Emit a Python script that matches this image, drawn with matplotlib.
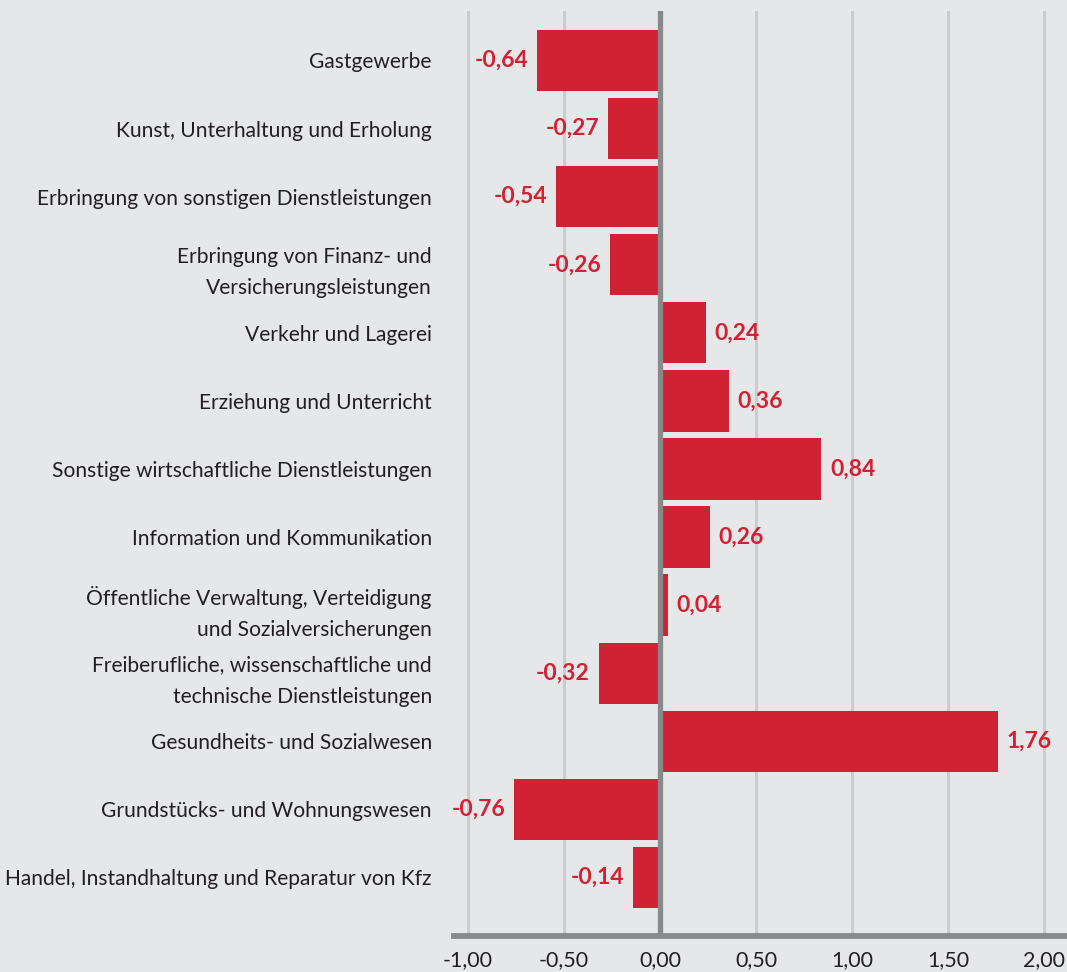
import matplotlib.pyplot as plt
import matplotlib.ticker as ticker

# ---------------------------------------------------------------------------
# Data
# ---------------------------------------------------------------------------
categories = [
    "Gastgewerbe",
    "Kunst, Unterhaltung und Erholung",
    "Erbringung von sonstigen Dienstleistungen",
    "Erbringung von Finanz- und\nVersicherungsleistungen",
    "Verkehr und Lagerei",
    "Erziehung und Unterricht",
    "Sonstige wirtschaftliche Dienstleistungen",
    "Information und Kommunikation",
    "Öffentliche Verwaltung, Verteidigung\nund Sozialversicherungen",
    "Freiberufliche, wissenschaftliche und\ntechnische Dienstleistungen",
    "Gesundheits- und Sozialwesen",
    "Grundstücks- und Wohnungswesen",
    "Handel, Instandhaltung und Reparatur von Kfz",
]
values = [-0.64, -0.27, -0.54, -0.26, 0.24, 0.36, 0.84, 0.26, 0.04, -0.32, 1.76, -0.76, -0.14]
xticks = [-1.0, -0.5, 0.0, 0.5, 1.0, 1.5, 2.0]

BG = "#e6e7e9"
RED = "#d12233"
GRID = "#cbcccf"
AXIS = "#88898b"
TEXT = "#231f20"

plt.rcParams["font.family"] = ["Lato", "DejaVu Sans"]


def de(v):
    return f"{v:.2f}".replace(".", ",")


fig = plt.figure(figsize=(10.67, 9.72), dpi=100, facecolor=BG)
ax = fig.add_axes([454 / 1067, 1 - 936 / 972, 1 - 454 / 1067, (936 - 11) / 972])
ax.set_facecolor(BG)

ypos = list(range(len(categories)))
ax.barh(ypos, values, height=0.9, color=RED, zorder=2)

for x in xticks:
    if x != 0:
        ax.axvline(x, color=GRID, lw=2.2, zorder=1)
ax.axvline(0, color=AXIS, lw=3.8, zorder=3)

for y, v in zip(ypos, values):
    off = 0.045
    if v >= 0:
        ax.text(v + off, y, de(v), ha="left", va="center", color=RED,
                fontsize=16.5, fontweight="bold")
    else:
        ax.text(v - off, y, de(v), ha="right", va="center", color=RED,
                fontsize=16.5, fontweight="bold")

ax.set_xlim(-1.073, 2.12)
ax.set_ylim(len(categories) - 1 + 0.86, -0.727)

ax.set_yticks(ypos)
ax.set_yticklabels(categories, fontsize=15.1, color=TEXT, linespacing=1.72)
ax.set_xticks(xticks)
ax.xaxis.set_major_formatter(ticker.FuncFormatter(lambda v, _: de(v)))
ax.tick_params(axis="y", length=0, pad=16)
ax.tick_params(axis="x", length=0, pad=10, labelsize=15.5, labelcolor=TEXT)

for s in ["top", "right", "left"]:
    ax.spines[s].set_visible(False)
ax.spines["bottom"].set_color(AXIS)
ax.spines["bottom"].set_linewidth(4.2)
ax.spines["bottom"].set_zorder(4)

fig.savefig("out.png", dpi=100, facecolor=BG)
